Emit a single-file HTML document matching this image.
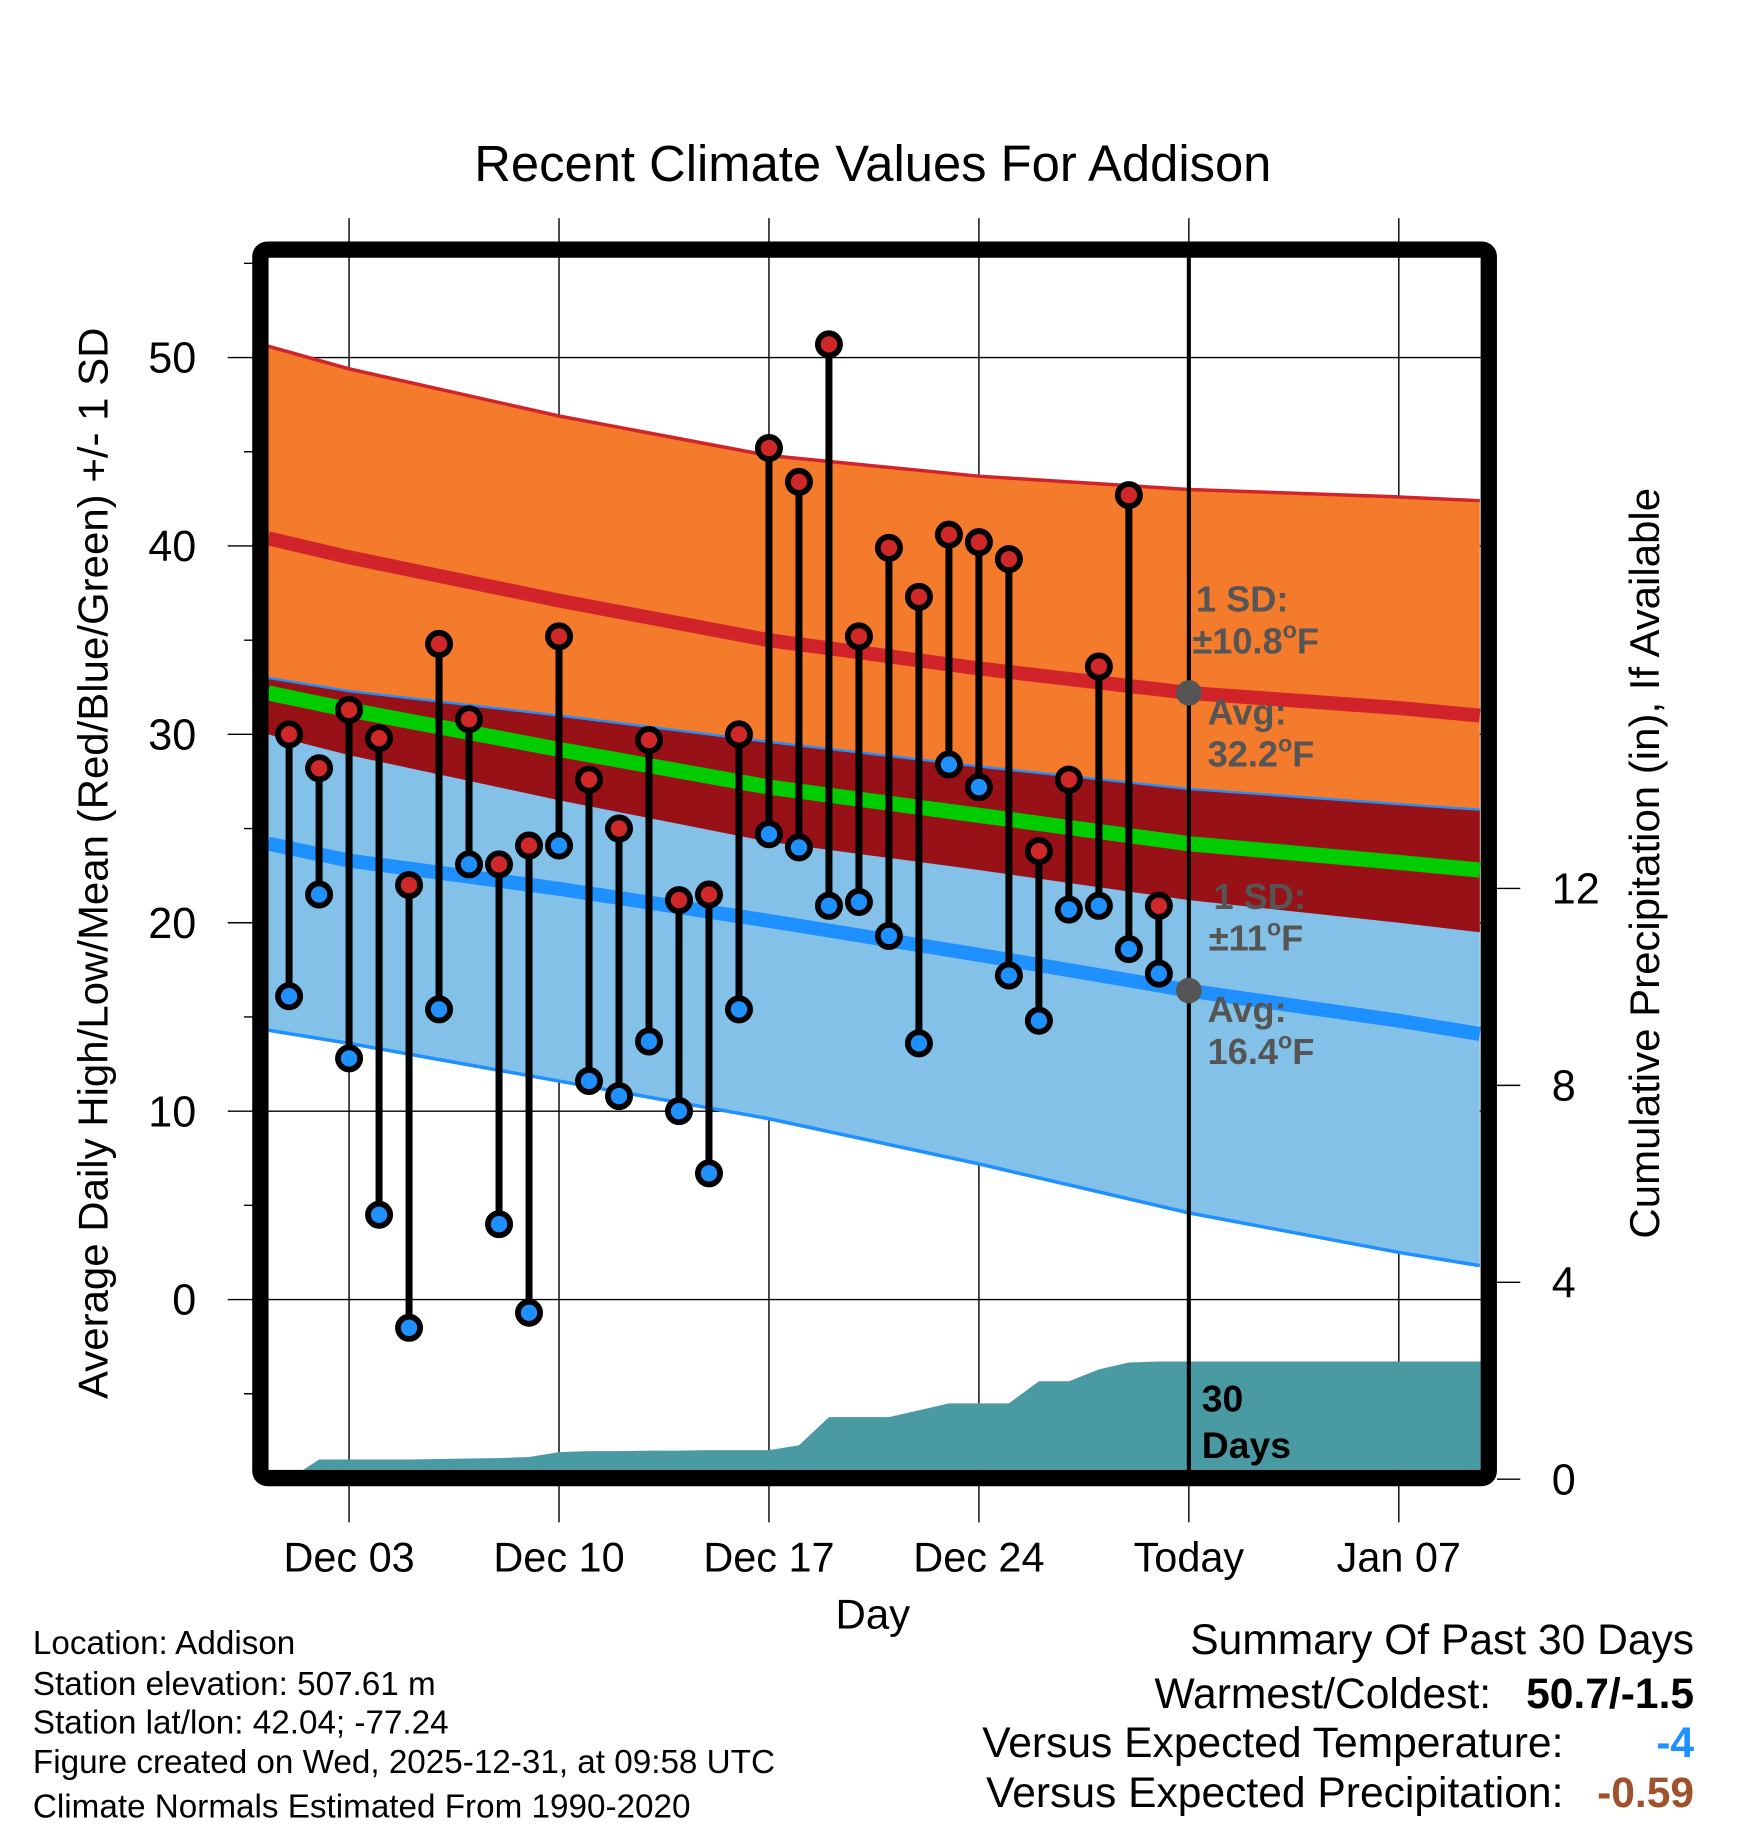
<!DOCTYPE html>
<html><head><meta charset="utf-8"><style>
html,body{margin:0;padding:0;background:#fff}
svg{display:block;font-family:"Liberation Sans",Arial,sans-serif}
</style></head><body>
<svg id="chart" width="1748" height="1828" viewBox="0 0 1498 1567" xmlns="http://www.w3.org/2000/svg">
<defs><clipPath id="plotclip"><rect x="230" y="221" width="1039" height="1039"/></clipPath></defs>
<text x="748" y="155" font-size="43.5" text-anchor="middle">Recent Climate Values For Addison</text>
<g id="grid"></g>
<g id="bands" clip-path="url(#plotclip)"></g>
<g id="marks"></g>
<rect x="223" y="214" width="1053" height="1053" rx="6" fill="none" stroke="#000" stroke-width="14"/>
<g id="axes"></g>
<g font-weight="bold" font-size="31" fill="#555">
<text x="1025" y="524">1 SD:</text>
<text x="1022" y="560">±10.8<tspan font-size="20" dy="-13">o</tspan><tspan dy="13">F</tspan></text>
<text x="1035" y="621">Avg:</text>
<text x="1035" y="657">32.2<tspan font-size="20" dy="-13">o</tspan><tspan dy="13">F</tspan></text>
<text x="1040" y="779">1 SD:</text>
<text x="1036" y="815">±11<tspan font-size="20" dy="-13">o</tspan><tspan dy="13">F</tspan></text>
<text x="1035" y="876">Avg:</text>
<text x="1035" y="912">16.4<tspan font-size="20" dy="-13">o</tspan><tspan dy="13">F</tspan></text>
</g>
<g font-weight="bold" font-size="32" fill="#000">
<text x="1030" y="1210">30</text><text x="1030" y="1250">Days</text></g>
<text transform="translate(92,740) rotate(-90)" font-size="36" text-anchor="middle">Average Daily High/Low/Mean (Red/Blue/Green) +/- 1 SD</text>
<text transform="translate(1422,740) rotate(-90)" font-size="36" text-anchor="middle">Cumulative Precipitation (in), If Available</text>
<text x="748" y="1396" font-size="36" text-anchor="middle">Day</text>
<g font-size="28.5">
<text x="28" y="1418">Location: Addison</text>
<text x="28" y="1453">Station elevation: 507.61 m</text>
<text x="28" y="1486">Station lat/lon: 42.04; -77.24</text>
<text x="28" y="1520">Figure created on Wed, 2025-12-31, at 09:58 UTC</text>
<text x="28" y="1558">Climate Normals Estimated From 1990-2020</text>
</g>
<g font-size="36.5" text-anchor="end">
<text x="1452" y="1418">Summary Of Past 30 Days</text>
<text x="1278" y="1464">Warmest/Coldest:</text>
<text x="1452" y="1464" font-weight="bold">50.7/-1.5</text>
<text x="1340" y="1506">Versus Expected Temperature:</text>
<text x="1452" y="1506" font-weight="bold" fill="#1e90ff">-4</text>
<text x="1340" y="1549">Versus Expected Precipitation:</text>
<text x="1452" y="1549" font-weight="bold" fill="#a0522d">-0.59</text>
</g>
</svg>
<script>
const highs=[30.0,28.2,31.3,29.8,22.0,34.8,30.8,23.1,24.1,35.2,27.6,25.0,29.7,21.2,21.5,30.0,45.2,43.4,50.7,35.2,39.9,37.3,40.6,40.2,39.3,23.8,27.6,33.6,42.7,20.9];
const lows=[16.1,21.5,12.8,4.5,-1.5,15.4,23.1,4.0,-0.7,24.1,11.6,10.8,13.7,10.0,6.7,15.4,24.7,24.0,20.9,21.1,19.3,13.6,28.4,27.2,17.2,14.8,20.7,20.9,18.6,17.3];
const precip=[0,0.40,0.40,0.40,0.40,0.41,0.42,0.43,0.45,0.55,0.57,0.57,0.58,0.58,0.59,0.59,0.59,0.69,1.26,1.26,1.26,1.40,1.54,1.54,1.54,1.99,1.99,2.23,2.37,2.39];
const normDays=[-0.7,2,9,16,23,30,37,39.7];
const highUp=[50.6,49.4,46.9,44.8,43.7,43.0,42.6,42.4];
const highMean=[40.4,39.4,37.1,35.0,33.5,32.2,31.4,31.0];
const highDn=[30.0,28.9,26.5,24.3,22.8,21.2,20.0,19.5];
const lowUp=[33.0,32.3,31.0,29.6,28.3,27.1,26.3,26.0];
const lowMean=[24.2,23.3,21.8,20.1,18.3,16.4,14.8,14.1];
const lowDn=[14.3,13.6,11.6,9.6,7.2,4.6,2.5,1.8];
const meanLine=[32.2,31.3,29.2,27.2,25.7,24.2,23.2,22.8];
const yTicks=[0,10,20,30,40,50];
const y2Ticks=[0,4,8,12];
const xTickDays=[2,9,16,23,30,37];
const xTickLabels=["Dec 03","Dec 10","Dec 17","Dec 24","Today","Jan 07"];

const NS="http://www.w3.org/2000/svg";
const X=d=>247.6+25.71*d;
const Y=v=>1114-16.15*v;
const Y2=p=>1268-42.2*p;
function mk(tag,attrs,parent){const e=document.createElementNS(NS,tag);for(const k in attrs)e.setAttribute(k,attrs[k]);parent.appendChild(e);return e;}
const grid=document.getElementById('grid'),bands=document.getElementById('bands'),marks=document.getElementById('marks'),axes=document.getElementById('axes');
const pts=(arr)=>arr.map((v,i)=>X(normDays[i]).toFixed(1)+','+Y(v).toFixed(1));
function band(up,dn,fill,name){const p=pts(up).concat(pts(dn).reverse());const e=mk('polygon',{points:p.join(' '),fill:fill},bands);

}
function line(arr,col,w,name){const e=mk('polyline',{points:pts(arr).join(' '),fill:'none',stroke:col,'stroke-width':w},bands);

}
band(highUp,highDn,'#f47a2c','high-band');
band(lowUp,lowDn,'#84c1e8','low-band');
{const up=lowUp.map((v,i)=>Math.min(v,highUp[i]));const dn=highDn.map((v,i)=>Math.max(v,lowDn[i]));band(up,dn,'#971116','overlap-band');}
line(highUp,'#d0242a',3,'high-upper-line');
line(lowUp,'#1e90ff',2,'low-upper-line');
line(lowDn,'#1e90ff',3,'low-lower-line');
line(meanLine,'#00cc00',13,'mean-line');
line(highMean,'#d0242a',12,'high-mean-line');
line(lowMean,'#1e90ff',12,'low-mean-line');
{let d='M'+X(0)+','+Y2(0);precip.forEach((p,i)=>{d+=' L'+X(i).toFixed(1)+','+Y2(p).toFixed(1);});
d+=' L1270,'+Y2(precip[precip.length-1]).toFixed(1)+' L1270,1270 L'+X(0)+',1270 Z';
const e=mk('path',{d:d,fill:'#4a9aa3'},bands);

}
yTicks.forEach(v=>{const e=mk('line',{x1:195,x2:1269,y1:Y(v),y2:Y(v),stroke:'#000','stroke-width':1.2},grid);

});
[-5,5,15,25,35,45,55].forEach(v=>{const e=mk('line',{x1:209,x2:223,y1:Y(v),y2:Y(v),stroke:'#000','stroke-width':1.2},axes);

});
xTickDays.forEach((d,i)=>{const e=mk('line',{x1:X(d),x2:X(d),y1:187,y2:1305,stroke:'#000','stroke-width':1.2},grid);


const t=mk('text',{x:X(d),y:1347,'font-size':35.5,'text-anchor':'middle'},axes);t.textContent=xTickLabels[i];

});
yTicks.forEach(v=>{const t=mk('text',{x:168,y:Y(v)+13,'font-size':37,'text-anchor':'end'},axes);t.textContent=v;

});
y2Ticks.forEach(p=>{const e=mk('line',{x1:1283,x2:1303,y1:Y2(p),y2:Y2(p),stroke:'#000','stroke-width':1.2},axes);


const t=mk('text',{x:1330,y:Y2(p)+13,'font-size':37},axes);t.textContent=p;

});
{const e=mk('line',{x1:X(30),x2:X(30),y1:221,y2:1262,stroke:'#000','stroke-width':3.5},marks);

}
[highMean[5],lowMean[5]].forEach(v=>{const e=mk('circle',{cx:X(30),cy:Y(v),r:11,fill:'#555'},marks);

});
highs.forEach((h,i)=>{const e=mk('line',{x1:X(i),x2:X(i),y1:Y(h),y2:Y(lows[i]),stroke:'#000','stroke-width':6},marks);

});
highs.forEach((h,i)=>{const e=mk('circle',{cx:X(i),cy:Y(h),r:9.5,fill:'#d02828',stroke:'#000','stroke-width':5},marks);

});
lows.forEach((l,i)=>{const e=mk('circle',{cx:X(i),cy:Y(l),r:9.5,fill:'#1e90ff',stroke:'#000','stroke-width':5},marks);

});
</script>
</body></html>
